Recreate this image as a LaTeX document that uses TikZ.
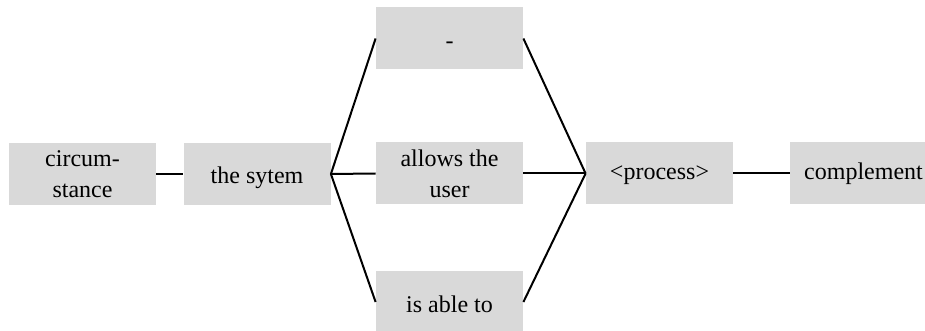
\documentclass[tikz,border=0pt]{standalone}
\usepackage{fontspec}
\setmainfont{Liberation Serif}
\definecolor{boxgray}{HTML}{D9D9D9}
\tikzset{
  wordbox/.style={fill=boxgray, draw=none, minimum width=73.5pt, minimum height=31pt,
    inner sep=0pt, align=center, font=\fontsize{12pt}{15.3pt}\selectfont},
  oneline/.style={text height=8.5pt, text depth=2.5pt},
  lowline/.style={text height=12.5pt, text depth=2.5pt},
  link/.style={draw=black, line width=1pt}
}
\begin{document}
\begin{tikzpicture}[x=0.5pt, y=-0.5pt]
  \useasboundingbox (0,0) rectangle (925,331);
  % word boxes of the sentence pattern
  \node[wordbox] (circ) at (82.5,174) {circum-\\stance};
  \node[wordbox, lowline] (sys)  at (257,174) {the sytem};
  \node[wordbox, lowline] (dash) at (449.5,38.5) {-};
  \node[wordbox] (allow) at (449.5,173.5) {allows the\\user};
  \node[wordbox, lowline] (able) at (449.5,302) {is able to};
  \node[wordbox, oneline] (proc) at (659.5,173.5) {<process>};
  \node[wordbox, oneline] (comp) at (863.5,173.5) {complement};
  % connectors
  \draw[link] (circ.east) -- (sys.west);
  \draw[link] (sys.east) -- (dash.west);
  \draw[link] (sys.east) -- (allow.west);
  \draw[link] (sys.east) -- (able.west);
  \draw[link] (dash.east) -- (proc.west);
  \draw[link] (allow.east) -- (proc.west);
  \draw[link] (able.east) -- (proc.west);
  \draw[link] (proc.east) -- (comp.west);
\end{tikzpicture}
\end{document}
